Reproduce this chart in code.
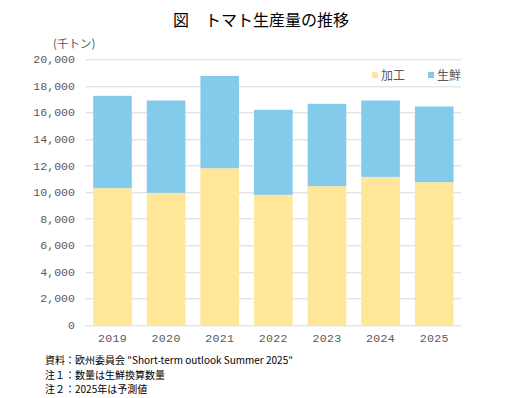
<!DOCTYPE html>
<html>
<head>
<meta charset="utf-8">
<script src="https://cdn.jsdelivr.net/npm/d3@7"></script>
<style>
	body { margin: 0; background: #fff; }
	text { font-family: 'Noto Sans CJK JP', sans-serif; }
	.num { font-family: 'Liberation Mono', 'DejaVu Sans Mono', monospace; }
</style>
</head>
<body>
<div id="chart"></div>
<script>
// 千トン
const years = ['2019', '2020', '2021', '2022', '2023', '2024', '2025'];
const processed = [10300, 9950, 11800, 9800, 10450, 11150, 10750];
const fresh = [6950, 6950, 6950, 6400, 6200, 5750, 5700];
const seriesNames = ['加工', '生鮮'];
const yTicks = [0, 2000, 4000, 6000, 8000, 10000, 12000, 14000, 16000, 18000, 20000];
const notes = [
	'資料：欧州委員会 "Short-term outlook Summer 2025"',
	'注１：数量は生鮮換算数量',
	'注２：2025年は予測値'
];

const W = 527, H = 398;
const margin = { top: 59.3, right: 66, bottom: 73, left: 85.7 };
const width = W - margin.left - margin.right;
const height = H - margin.top - margin.bottom;
const colors = ['#FFE699', '#83CBEB'];

const svg = d3
	.select('#chart')
	.append('svg')
	.attr('width', W)
	.attr('height', H);

// Title
svg
	.append('text')
	.attr('x', 261)
	.attr('y', 26)
	.attr('text-anchor', 'middle')
	.attr('font-size', 16)
	.attr('fill', '#000')
	.text('図　トマト生産量の推移');

// Unit
svg
	.append('text')
	.attr('x', 53)
	.attr('y', 48)
	.attr('font-size', 11.5)
	.attr('fill', '#595959')
	.text('(千トン)');

const table = years.map((y, i) => ({ year: y, p: processed[i], f: fresh[i] }));
const stacked = d3.stack().keys(['p', 'f'])(table);

const x = d3
	.scaleBand()
	.domain(years)
	.range([0, width])
	.paddingInner(0.28)
	.paddingOuter(0.14);
const y = d3
	.scaleLinear()
	.domain([0, 20000])
	.range([height, 0]);

const chart = svg
	.append('g')
	.attr('transform', 'translate(' + margin.left + ',' + margin.top + ')');

// Grid
chart
	.append('g')
	.selectAll('line')
	.data(yTicks)
	.enter()
	.append('line')
	.attr('x1', 0)
	.attr('x2', width)
	.attr('y1', d => Math.round(y(d)) + 0.5)
	.attr('y2', d => Math.round(y(d)) + 0.5)
	.attr('stroke', '#D9D9D9')
	.attr('stroke-width', 1);

// Y axis labels
const yAxis = d3
	.axisLeft(y)
	.tickValues(yTicks)
	.tickSize(0)
	.tickPadding(10.7)
	.tickFormat(d3.format(','));
const aY = chart.append('g').call(yAxis);
aY.select('.domain').remove();
aY
	.selectAll('text')
	.attr('class', 'num')
	.attr('font-size', 11.6)
	.attr('fill', '#595959')
	.attr('dy', '0.3em');

// Bars
chart
	.append('g')
	.selectAll('g')
	.data(stacked)
	.enter()
	.append('g')
	.attr('fill', (d, i) => colors[i])
	.selectAll('rect')
	.data(d => d)
	.enter()
	.append('rect')
	.attr('x', d => x(d.data.year))
	.attr('width', x.bandwidth())
	.attr('y', d => y(d[1]))
	.attr('height', d => y(d[0]) - y(d[1]));

// X axis
const xAxis = d3
	.axisBottom(x)
	.tickSize(0)
	.tickPadding(9);
const aX = chart
	.append('g')
	.attr('transform', 'translate(0,' + height + ')')
	.call(xAxis);
aX.select('.domain').remove();
aX
	.selectAll('text')
	.attr('class', 'num')
	.attr('font-size', 11.6)
	.attr('fill', '#595959')
	.style('letter-spacing', '0.3px');

// Legend
const legend = svg
	.append('g')
	.selectAll('g')
	.data(seriesNames)
	.enter()
	.append('g')
	.attr('transform', (d, i) => 'translate(' + (372 + i * 56) + ',72)');
legend
	.append('rect')
	.attr('width', 6)
	.attr('height', 6)
	.attr('fill', (d, i) => colors[i]);
legend
	.append('text')
	.attr('x', 9)
	.attr('y', 7.5)
	.attr('font-size', 12)
	.attr('fill', '#595959')
	.text(d => d);

// Notes
svg
	.append('g')
	.selectAll('text')
	.data(notes)
	.enter()
	.append('text')
	.attr('x', 45)
	.attr('y', (d, i) => 364 + i * 14.6)
	.attr('font-size', 10)
	.attr('fill', '#000')
	.text(d => d);
</script>
</body>
</html>
